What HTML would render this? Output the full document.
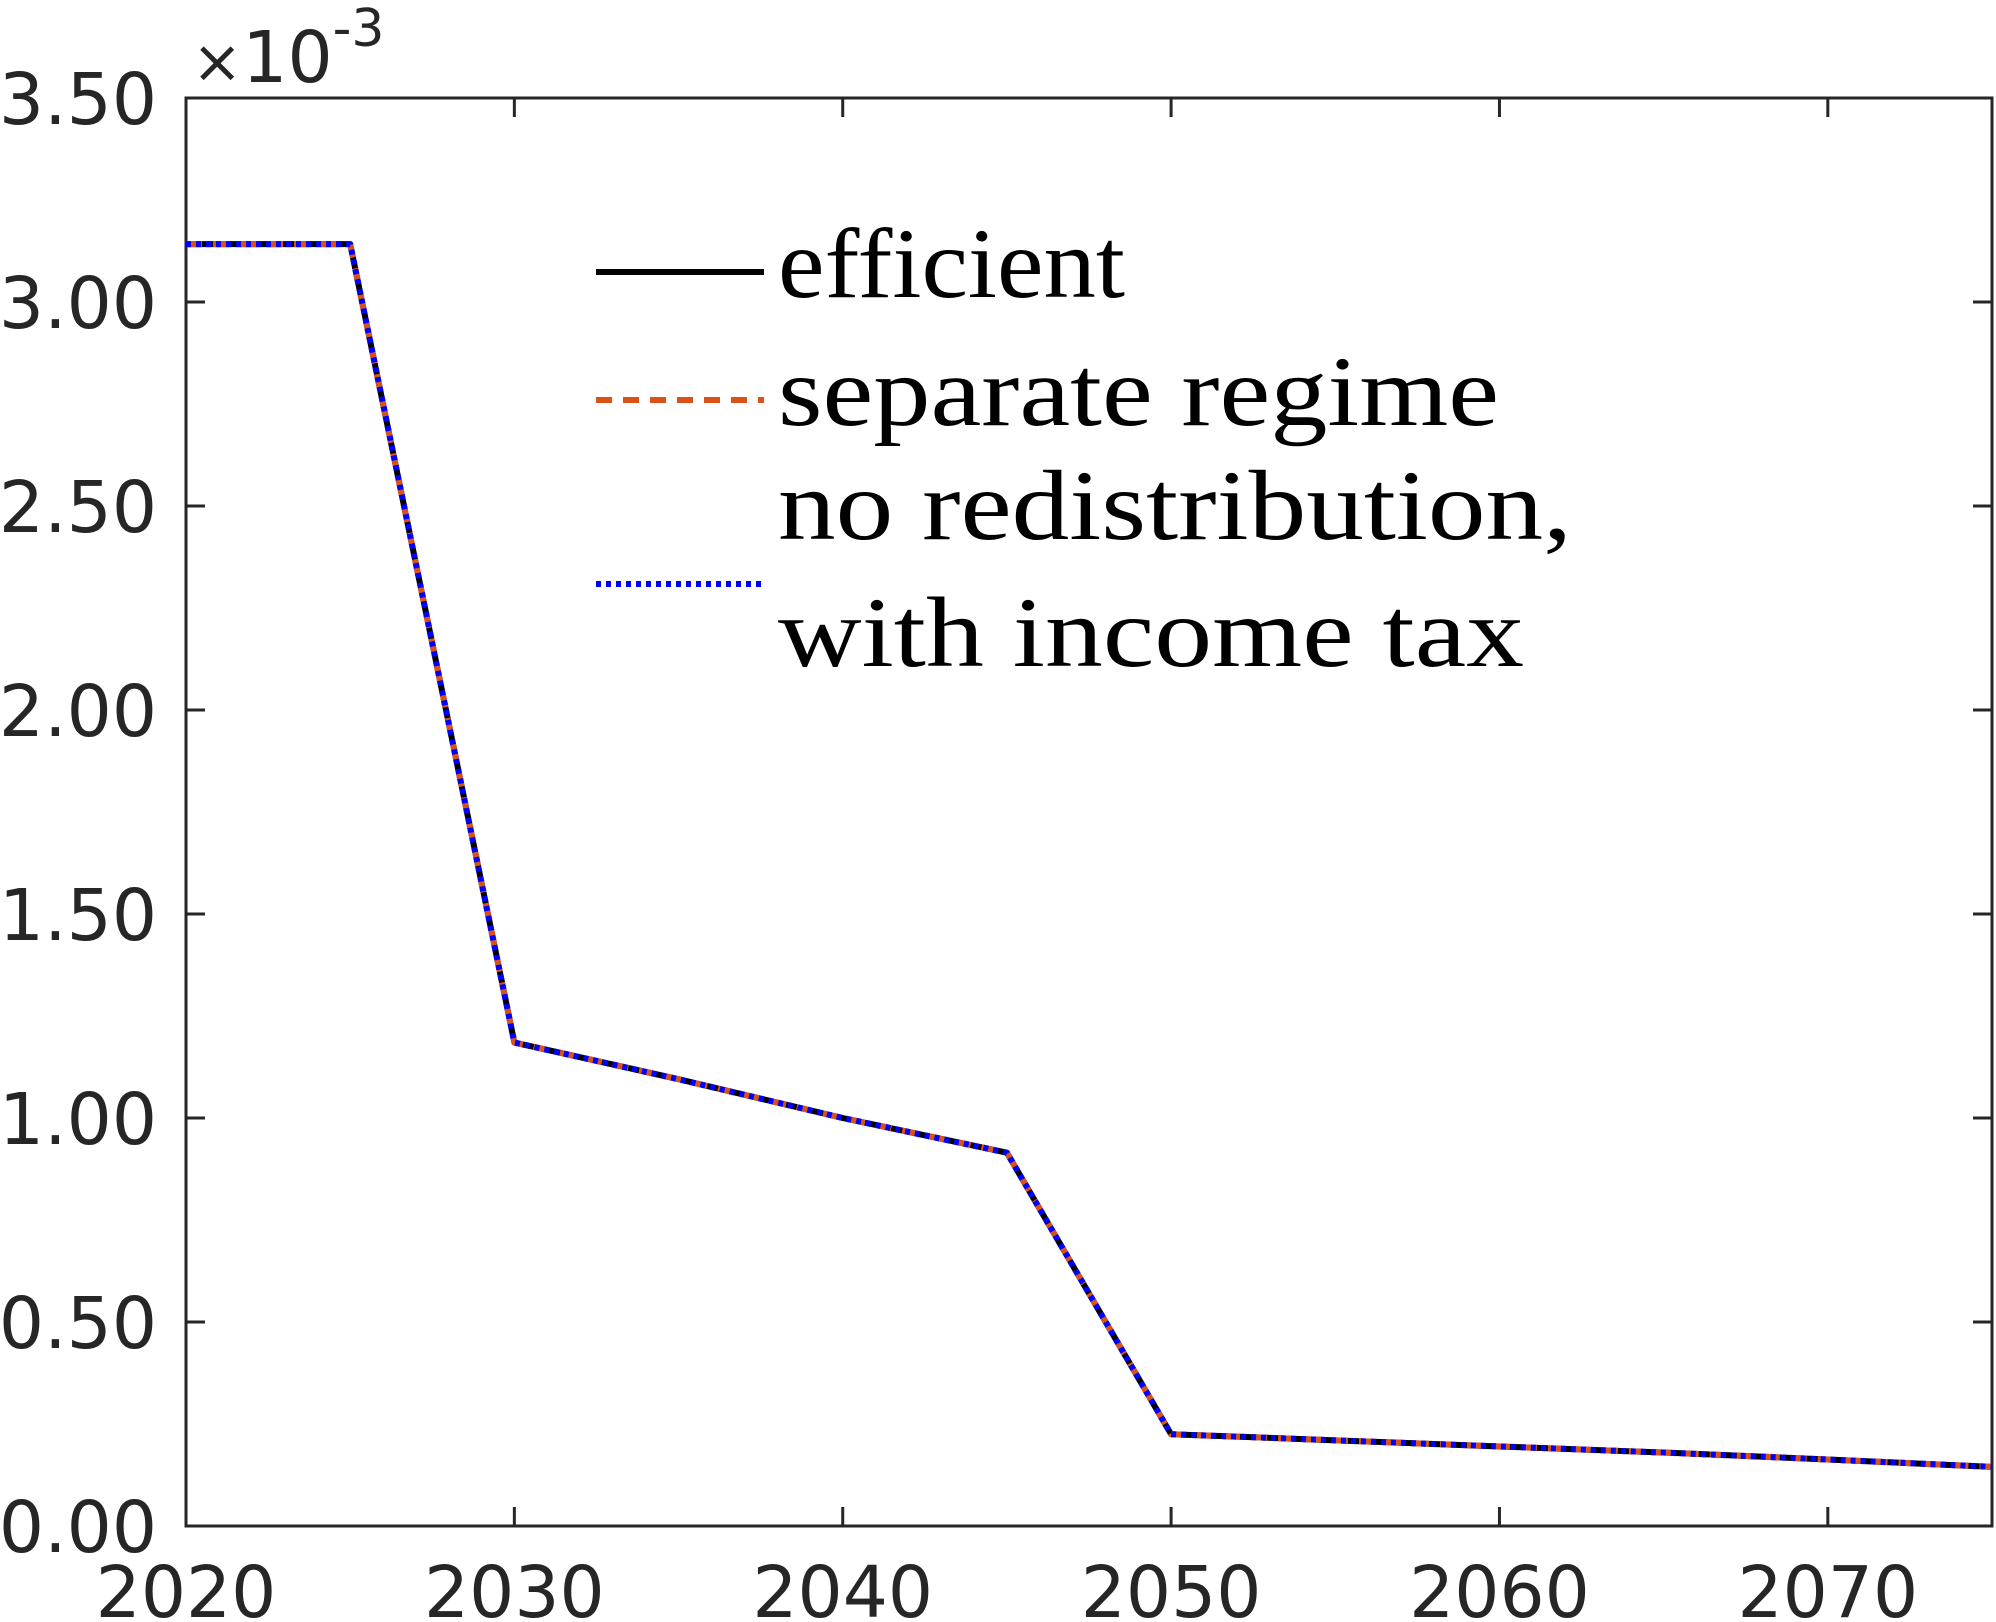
<!DOCTYPE html>
<html><head><meta charset="utf-8"><style>
html,body{margin:0;padding:0;background:#fff;}
svg{display:block;}
.tick{font-family:"DejaVu Sans","Liberation Sans",sans-serif;font-size:71px;fill:#262626;}
.leg{font-family:"Liberation Serif","DejaVu Serif",serif;font-size:100px;fill:#000;}
</style></head><body>
<svg id="chart" width="1996" height="1622" viewBox="0 0 1996 1622" xmlns="http://www.w3.org/2000/svg">
<g id="axes"></g>
<g id="series"></g>
<g id="legend">
  <line x1="596" y1="272" x2="764" y2="272" stroke="#000" stroke-width="6"/>
  <text class="leg" x="778" y="297" textLength="347" lengthAdjust="spacingAndGlyphs">efficient</text>
  <line x1="596" y1="400" x2="764" y2="400" stroke="#D95319" stroke-width="6" stroke-dasharray="16,11"/>
  <text class="leg" x="778" y="425" textLength="721" lengthAdjust="spacingAndGlyphs">separate regime</text>
  <line x1="596" y1="584" x2="764" y2="584" stroke="#0000FF" stroke-width="6" stroke-dasharray="5,5"/>
  <text class="leg" x="778" y="539" textLength="794" lengthAdjust="spacingAndGlyphs">no redistribution,</text>
  <text class="leg" x="778" y="666" textLength="746" lengthAdjust="spacingAndGlyphs">with income tax</text>
</g>
</svg>
<script>
const years = [2020, 2025, 2030, 2035, 2040, 2045, 2050, 2055, 2060, 2065, 2070, 2075];
const efficient = [3.142, 3.142, 1.185, 1.095, 1.0, 0.915, 0.225, 0.21, 0.195, 0.18, 0.163, 0.145];
const separateRegime = [3.142, 3.142, 1.185, 1.095, 1.0, 0.915, 0.225, 0.21, 0.195, 0.18, 0.163, 0.145];
const noRedistribution = [3.142, 3.142, 1.185, 1.095, 1.0, 0.915, 0.225, 0.21, 0.195, 0.18, 0.163, 0.145];
const xTicks = [2020, 2030, 2040, 2050, 2060, 2070];
const xTickLabels = ["2020", "2030", "2040", "2050", "2060", "2070"];
const yTicks = [0, 0.5, 1, 1.5, 2, 2.5, 3, 3.5];
const yTickLabels = ["0.00", "0.50", "1.00", "1.50", "2.00", "2.50", "3.00", "3.50"];

const L = 186, R = 1992, T = 98, B = 1526;
const xMin = 2020, xMax = 2075, yMin = 0, yMax = 3.5;
function sx(v){ return L + (v - xMin) / (xMax - xMin) * (R - L); }
function sy(v){ return B - (v - yMin) / (yMax - yMin) * (B - T); }
const NS = "http://www.w3.org/2000/svg";
function mk(tag, attrs, parent){
  const e = document.createElementNS(NS, tag);
  for (const k in attrs) e.setAttribute(k, attrs[k]);
  parent.appendChild(e); return e;
}
const axes = document.getElementById('axes');
const box = mk('rect', {x:L, y:T, width:R-L, height:B-T, fill:'none', stroke:'#262626', 'stroke-width':3}, axes);


xTicks.forEach((v, i) => {
  const x = sx(v);
  const t1 = mk('line', {x1:x, y1:B, x2:x, y2:B-19, stroke:'#262626', 'stroke-width':3}, axes);
  
  
  const t2 = mk('line', {x1:x, y1:T, x2:x, y2:T+19, stroke:'#262626', 'stroke-width':3}, axes);
  
  
  const tx = mk('text', {x:x, y:1617, 'text-anchor':'middle', class:'tick'}, axes);
  tx.textContent = xTickLabels[i];
  
  
});
yTicks.forEach((v, i) => {
  const y = sy(v);
  const t1 = mk('line', {x1:L, y1:y, x2:L+19, y2:y, stroke:'#262626', 'stroke-width':3}, axes);
  
  
  const t2 = mk('line', {x1:R, y1:y, x2:R-19, y2:y, stroke:'#262626', 'stroke-width':3}, axes);
  
  
  const tx = mk('text', {x:157, y:y+26, 'text-anchor':'end', class:'tick'}, axes);
  tx.textContent = yTickLabels[i];
  
  
});
const ex = mk('text', {x:192, y:82, class:'tick'}, axes);


const t1 = mk('tspan', {'font-size':'60'}, ex); t1.textContent = '\u00D7';
const t2 = mk('tspan', {}, ex); t2.textContent = '10';
const t3 = mk('tspan', {dy:'-36', 'font-size':'52'}, ex); t3.textContent = '-3';

const ser = document.getElementById('series');
function drawLine(vals, color, dash, name){
  const pts = years.map((y, i) => sx(y) + ',' + sy(vals[i])).join(' ');
  const p = mk('polyline', {points:pts, fill:'none', stroke:color, 'stroke-width':6, 'stroke-linejoin':'round'}, ser);
  if (dash) p.setAttribute('stroke-dasharray', dash);
  
  
}
drawLine(efficient, '#000', null, 'series-efficient');
drawLine(separateRegime, '#D95319', '16,11', 'series-separate-regime');
drawLine(noRedistribution, '#0000FF', '5,5', 'series-no-redistribution');
</script>
</body></html>
